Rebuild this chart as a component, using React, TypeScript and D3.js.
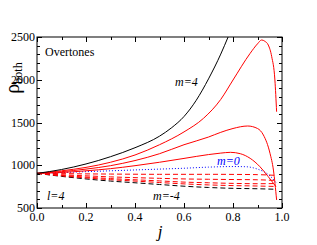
import React from "react";
import * as d3 from "d3";

const W = 317, H = 245;
const M = { left: 37, top: 37, right: 35, bottom: 37 };

const xTicks = [0, 0.2, 0.4, 0.6, 0.8, 1.0];
const yTicks = [500, 1000, 1500, 2000, 2500];

// m=4 (black solid)
const jM4 = [0, 0.1, 0.2, 0.3, 0.4, 0.5, 0.55, 0.6, 0.65, 0.7, 0.75, 0.78, 0.8];
const rM4 = [905, 950, 1015, 1100, 1205, 1340, 1440, 1570, 1760, 2010, 2300, 2500, 2640];

// m=3 (red solid)
const jM3 = [0, 0.1, 0.2, 0.3, 0.4, 0.5, 0.6, 0.68, 0.75, 0.8, 0.87, 0.9, 0.917, 0.93, 0.944, 0.958, 0.971, 0.978];
const rM3 = [905, 935, 975, 1035, 1120, 1240, 1390, 1550, 1770, 1997, 2309, 2420, 2465, 2450, 2406, 2270, 1997, 1626];

// m=2 (red solid)
const jM2 = [0, 0.1, 0.2, 0.3, 0.4, 0.5, 0.6, 0.7, 0.75, 0.8, 0.86, 0.9, 0.924, 0.951, 0.965, 0.978];
const rM2 = [905, 925, 955, 995, 1055, 1135, 1240, 1330, 1385, 1430, 1459, 1430, 1354, 1140, 944, 594];

// m=1 (red solid)
const jM1 = [0, 0.1, 0.2, 0.3, 0.4, 0.5, 0.6, 0.7, 0.75, 0.79, 0.83, 0.87, 0.91, 0.944, 0.965, 0.975];
const rM1 = [905, 915, 935, 960, 995, 1035, 1080, 1125, 1142, 1151, 1135, 1081, 983, 866, 789, 750];

// m=0 (blue dotted)
const jM0 = [0, 0.1, 0.2, 0.3, 0.4, 0.5, 0.6, 0.7, 0.8, 0.85, 0.9, 0.94, 0.96, 0.975];
const rM0 = [905, 915, 925, 935, 945, 955, 965, 978, 985, 983, 955, 900, 850, 800];

// negative m (dashed)
const jNeg = [0, 0.1, 0.2, 0.3, 0.4, 0.5, 0.6, 0.7, 0.8, 0.9, 0.975];
const rNegA = [905, 902, 899, 897, 895, 894, 894, 894, 893, 890, 882];
const rNegB = [905, 889, 876, 864, 855, 847, 840, 836, 833, 830, 822];
const rNegC = [905, 881, 861, 844, 830, 817, 803, 795, 788, 784, 786];
const rNegD = [905, 876, 852, 831, 815, 798, 782, 770, 762, 757, 752];
const rNegE = [905, 870, 840, 815, 795, 775, 755, 740, 730, 725, 719];

const font = "'Liberation Serif', 'Times New Roman', serif";

export default function App() {
  const x = d3.scaleLinear().domain([0, 1]).range([M.left, W - M.right]);
  const y = d3.scaleLinear().domain([500, 2500]).range([H - M.bottom, M.top]);
  const line = d3.line<[number, number]>().x(d => x(d[0])).y(d => y(d[1])).curve(d3.curveMonotoneX);
  const mk = (js: number[], rs: number[]) => line(js.map((j, i) => [j, rs[i]] as [number, number])) || "";

  const series = [
    { d: mk(jNeg, rNegE), stroke: "#000", dash: "5,3" },
    { d: mk(jNeg, rNegD), stroke: "#ff0000", dash: "5,3" },
    { d: mk(jNeg, rNegC), stroke: "#ff0000", dash: "5,3" },
    { d: mk(jNeg, rNegB), stroke: "#ff0000", dash: "5,3" },
    { d: mk(jNeg, rNegA), stroke: "#ff0000", dash: "5,3" },
    { d: mk(jM0, rM0), stroke: "#0000ff", dash: "1,2" },
    { d: mk(jM1, rM1), stroke: "#ff0000", dash: null },
    { d: mk(jM2, rM2), stroke: "#ff0000", dash: null },
    { d: mk(jM3, rM3), stroke: "#ff0000", dash: null },
    { d: mk(jM4, rM4), stroke: "#000", dash: null },
  ];

  const x0 = x(0), x1 = x(1), y0 = y(500), y1 = y(2500);
  const xMinor = d3.range(0, 1.0001, 0.1);
  const yMinor = d3.range(500, 2500.1, 100);

  return (
    <svg width={W} height={H} style={{ position: "absolute", left: 0, top: 0, background: "#fff" }}>
      <defs>
        <clipPath id="plot">
          <rect x={x0} y={y1} width={x1 - x0} height={y0 - y1} />
        </clipPath>
      </defs>
      <g clipPath="url(#plot)" fill="none" strokeWidth={1}>
        {series.map((s, i) => (
          <path key={i} d={s.d} stroke={s.stroke} strokeDasharray={s.dash || undefined} />
        ))}
      </g>
      {/* ticks */}
      <g stroke="#000" strokeWidth={1}>
        {xMinor.map((t, i) => {
          const major = i % 2 === 0;
          const len = major ? 5 : 3;
          const px = Math.round(x(t)) + 0.5;
          return (
            <g key={"xt" + i}>
              <line x1={px} x2={px} y1={y0} y2={y0 - len} />
              <line x1={px} x2={px} y1={y1} y2={y1 + len} />
            </g>
          );
        })}
        {yMinor.map((t, i) => {
          const major = i % 5 === 0;
          const len = major ? 5 : 3;
          const py = Math.round(y(t)) + 0.5;
          return (
            <g key={"yt" + i}>
              <line x1={x0} x2={x0 + len} y1={py} y2={py} />
              <line x1={x1} x2={x1 - len} y1={py} y2={py} />
            </g>
          );
        })}
      </g>
      <rect x={x0} y={y1} width={x1 - x0} height={y0 - y1} fill="none" stroke="#000" strokeWidth={1} />
      {/* tick labels */}
      <g fontFamily={font} fontSize={12} fill="#000">
        {xTicks.map((t, i) => (
          <text key={"xl" + i} x={x(t)} y={y0 + 13} textAnchor="middle">{t.toFixed(1)}</text>
        ))}
        {yTicks.map((t, i) => (
          <text key={"yl" + i} x={x0 - 2} y={y(t) + 4} textAnchor="end">{t}</text>
        ))}
      </g>
      {/* axis titles */}
      <text x={160} y={237} fontFamily={font} fontSize={17} fontStyle="italic" textAnchor="middle">j</text>
      <text transform="translate(19,78) rotate(-90)" fontFamily={font} fontSize={20} textAnchor="middle">
        ρ<tspan fontSize={12} dy={3}>both</tspan>
      </text>
      {/* annotations */}
      <text x={45} y={56} fontFamily={font} fontSize={12}>Overtones</text>
      <text x={175} y={86} fontFamily={font} fontSize={12} fontStyle="italic">m=4</text>
      <text x={217} y={165} fontFamily={font} fontSize={12} fontStyle="italic" fill="#0000ff">m=0</text>
      <text x={153} y={200} fontFamily={font} fontSize={12} fontStyle="italic">m=-4</text>
      <text x={47} y={200} fontFamily={font} fontSize={12} fontStyle="italic">l=4</text>
    </svg>
  );
}
